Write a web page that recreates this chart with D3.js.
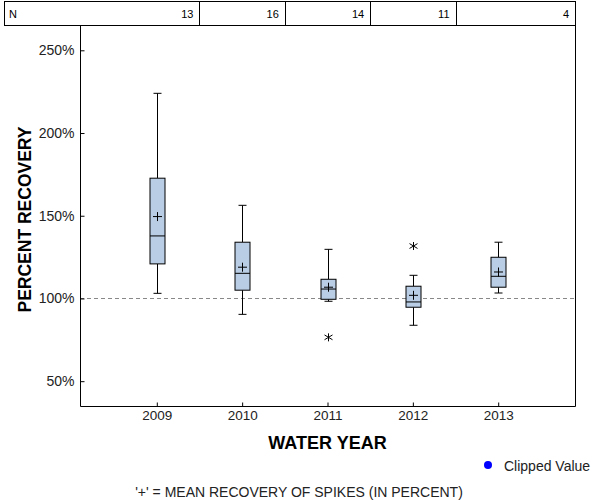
<!DOCTYPE html>
<html><head><meta charset="utf-8">
<script src="https://cdn.jsdelivr.net/npm/d3@7"></script>
<style>body{margin:0;background:#fff}svg{display:block}text{font-family:"Liberation Sans",Arial,sans-serif}</style>
</head><body><svg id="c" width="600" height="500"></svg>
<script>
const years = [2009, 2010, 2011, 2012, 2013];
const counts = [13, 16, 14, 11, 4];
const whiskerLow = [103.1, 90.4, 98.3, 83.8, 103.3];
const q1 = [120.9, 105.0, 99.5, 94.7, 106.8];
const median = [137.8, 115.2, 105.7, 97.9, 113.4];
const q3 = [172.7, 134.0, 111.6, 107.4, 124.9];
const whiskerHigh = [224.0, 156.3, 129.7, 114.0, 134.0];
const means = [149.5, 118.9, 106.8, 101.9, 116.0];
const outliers = [[2011, 76.5], [2012, 131.7]];
const yTicks = [50, 100, 150, 200, 250];

const svg = d3.select("#c");
const L = 80, R = 575, T = 25, B = 406;
const x = d3.scaleLinear().domain([2008.1, 2013.9]).range([L, R]);
const y = d3.scaleLinear().domain([35, 265.3]).range([B, T]);
const FF = "Liberation Sans, Arial, sans-serif";

// N table
const tbl = svg.append("g");
tbl.append("rect").attr("x", 4.5).attr("y", 1.5).attr("width", R - 4).attr("height", T - 1)
  .attr("fill", "none").attr("stroke", "#000");
const bounds = [4].concat(years.slice(0, -1).map(d => x(d + 0.5))).concat([R]);
years.forEach((yr, i) => {
  if (i > 0) tbl.append("line").attr("x1", Math.round(bounds[i]) + 0.5).attr("x2", Math.round(bounds[i]) + 0.5)
    .attr("y1", 1.5).attr("y2", T + 0.5).attr("stroke", "#000");
  tbl.append("text").attr("x", bounds[i + 1] - 6).attr("y", 18).attr("text-anchor", "end")
    .attr("font-size", 11).text(counts[i]);
});
tbl.append("text").attr("x", 9).attr("y", 18).attr("font-size", 11).text("N");

// reference line
svg.append("line").attr("x1", L).attr("x2", R).attr("y1", Math.round(y(100)) + 0.5).attr("y2", Math.round(y(100)) + 0.5)
  .attr("stroke", "#888").attr("stroke-dasharray", "4,3");

// axes
const yAxis = svg.append("g").attr("transform", `translate(${L + 0.5},0)`)
  .call(d3.axisLeft(y).tickValues(yTicks).tickFormat(d => d + "%").tickSizeInner(-4).tickSizeOuter(0).tickPadding(6));
yAxis.select(".domain").remove();
yAxis.selectAll("text").attr("font-size", 14).attr("font-family", FF).attr("fill", "#222");
const xAxis = svg.append("g").attr("transform", `translate(0,${B + 0.5})`)
  .call(d3.axisBottom(x).tickValues(years).tickFormat(d3.format("d")).tickSizeInner(-4).tickSizeOuter(0).tickPadding(4));
xAxis.select(".domain").remove();
xAxis.selectAll("text").attr("font-size", 13.5).attr("font-family", FF).attr("fill", "#222");

// frame
svg.append("path").attr("d", `M${L + 0.5},${T}V${B + 0.5}H${R + 0.5}V${T}`).attr("fill", "none").attr("stroke", "#000");

// boxes
const bw = 15, cap = 8, pl = 9;
const g = svg.append("g").attr("stroke", "#000").attr("stroke-width", 1);
years.forEach((yr, i) => {
  const cx = Math.round(x(yr)) + 0.5;
  g.append("line").attr("x1", cx).attr("x2", cx).attr("y1", y(whiskerHigh[i])).attr("y2", y(q3[i]));
  g.append("line").attr("x1", cx).attr("x2", cx).attr("y1", y(q1[i])).attr("y2", y(whiskerLow[i]));
  g.append("line").attr("x1", cx - cap / 2).attr("x2", cx + cap / 2).attr("y1", y(whiskerHigh[i])).attr("y2", y(whiskerHigh[i]));
  g.append("line").attr("x1", cx - cap / 2).attr("x2", cx + cap / 2).attr("y1", y(whiskerLow[i])).attr("y2", y(whiskerLow[i]));
  g.append("rect").attr("x", cx - bw / 2).attr("width", bw).attr("y", y(q3[i])).attr("height", y(q1[i]) - y(q3[i]))
    .attr("fill", "#b9cde5");
  g.append("line").attr("x1", cx - bw / 2).attr("x2", cx + bw / 2).attr("y1", y(median[i])).attr("y2", y(median[i]));
  g.append("line").attr("x1", cx - pl / 2).attr("x2", cx + pl / 2).attr("y1", y(means[i])).attr("y2", y(means[i]));
  g.append("line").attr("x1", cx).attr("x2", cx).attr("y1", y(means[i]) - pl / 2).attr("y2", y(means[i]) + pl / 2);
});
outliers.forEach(([yr, v]) => {
  const cx = Math.round(x(yr)) + 0.5, cy = y(v), s = 4;
  g.append("path").attr("d", `M${cx},${cy - s}V${cy + s}M${cx - s},${cy - s * 0.6}L${cx + s},${cy + s * 0.6}M${cx - s},${cy + s * 0.6}L${cx + s},${cy - s * 0.6}`)
    .attr("fill", "none");
});

// titles
svg.append("text").attr("transform", `translate(31,${(T + B) / 2 + 4}) rotate(-90)`).attr("text-anchor", "middle")
  .attr("font-size", 17.5).attr("font-weight", "bold").text("PERCENT RECOVERY");
svg.append("text").attr("x", (L + R) / 2).attr("y", 449).attr("text-anchor", "middle")
  .attr("font-size", 18).attr("font-weight", "bold").text("WATER YEAR");
svg.append("circle").attr("cx", 488).attr("cy", 465).attr("r", 4).attr("fill", "#0000ff");
svg.append("text").attr("x", 504).attr("y", 471).attr("font-size", 14).attr("fill", "#222").text("Clipped Value");
svg.append("text").attr("x", 299).attr("y", 497).attr("text-anchor", "middle").attr("font-size", 14).attr("fill", "#222")
  .text("'+' = MEAN RECOVERY OF SPIKES (IN PERCENT)");
</script></body></html>
